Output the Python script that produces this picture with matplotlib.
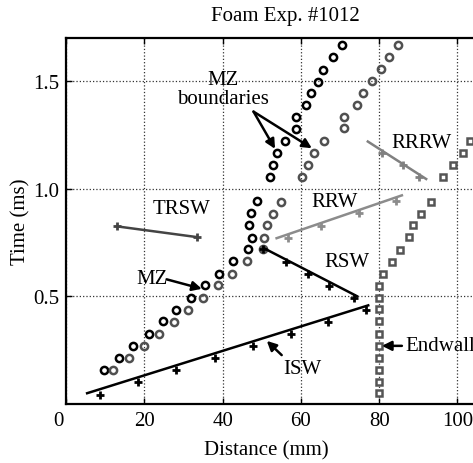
import numpy as np
import matplotlib
matplotlib.use('Agg')
import matplotlib.pyplot as plt
from matplotlib.transforms import ScaledTranslation

plt.rcParams['font.family'] = ['Liberation Serif', 'DejaVu Serif']
plt.rcParams['font.size'] = 15

# Mixing-zone boundaries (distance mm, time ms)
mz1_x = [9.8, 13.6, 17.2, 21.3, 24.7, 28.0, 31.9, 35.5, 39.2, 42.7, 46.4, 47.5, 46.8, 47.2, 48.7,
         52.2, 53.0, 53.8, 55.9, 58.7, 58.7, 61.3, 62.6, 64.3, 65.6, 68.1, 70.4]
mz1_t = [0.157, 0.214, 0.270, 0.324, 0.384, 0.437, 0.491, 0.551, 0.606, 0.663, 0.719, 0.772, 0.830, 0.888, 0.941,
         1.056, 1.111, 1.165, 1.222, 1.278, 1.332, 1.389, 1.443, 1.497, 1.551, 1.610, 1.667]
mz2_x = [11.9, 16.2, 20.0, 23.8, 27.7, 31.1, 35.1, 38.9, 42.5, 46.3, 50.2, 50.7, 51.3, 53.0, 54.8,
         60.2, 61.9, 63.4, 66.0, 71.1, 71.1, 74.3, 75.8, 78.1, 80.4, 82.4, 84.9]
mz2_t = [0.157, 0.213, 0.270, 0.325, 0.383, 0.437, 0.491, 0.552, 0.606, 0.662, 0.718, 0.772, 0.830, 0.884, 0.940,
         1.054, 1.110, 1.165, 1.222, 1.280, 1.332, 1.391, 1.443, 1.501, 1.556, 1.610, 1.668]

# Endwall / foam front
ew_x = [80.0, 80.0, 80.0, 80.0, 80.0, 80.0, 80.0, 80.0, 80.0, 80.0, 81.0, 83.3, 85.3, 87.5, 88.7, 90.6, 93.2,
        96.2, 98.8, 101.5, 103.3]
ew_t = [0.049, 0.103, 0.160, 0.215, 0.271, 0.326, 0.384, 0.440, 0.494, 0.549, 0.606, 0.661, 0.715, 0.775, 0.829,
        0.884, 0.940, 1.052, 1.108, 1.165, 1.222]

# Shock / wave points and fitted lines
isw_x = [8.7, 18.5, 28.0, 38.1, 47.8, 57.4, 67.0, 76.6]
isw_t = [0.043, 0.100, 0.159, 0.213, 0.269, 0.325, 0.382, 0.437]
isw_fit_x = [5.4, 77.2]
isw_fit_t = [0.050, 0.458]

rsw_x = [50.4, 56.2, 61.8, 67.3, 73.6]
rsw_t = [0.718, 0.661, 0.602, 0.546, 0.494]
rsw_fit_x = [50.4, 74.3]
rsw_fit_t = [0.725, 0.501]

rrw_x = [56.6, 65.2, 74.8, 84.3]
rrw_t = [0.771, 0.827, 0.886, 0.941]
rrw_fit_x = [53.8, 85.8]
rrw_fit_t = [0.770, 0.969]

rrrw_x = [80.8, 86.2, 90.2]
rrrw_t = [1.168, 1.111, 1.054]
rrrw_fit_x = [77.1, 92.0]
rrrw_fit_t = [1.219, 1.045]

trsw_x = [13.0, 33.5]
trsw_t = [0.825, 0.775]

fig = plt.figure(figsize=(4.73, 4.64), dpi=100)
ax = fig.add_axes([0.1395, 0.1272, 0.927, 0.7888])

ax.plot(mz1_x, mz1_t, 'o', ls='none', ms=5.2, mew=1.8, mfc='none', mec='k')
ax.plot(mz2_x, mz2_t, 'o', ls='none', ms=5.2, mew=1.8, mfc='none', mec='#505050')
ax.plot(ew_x, ew_t, 's', ls='none', ms=4.2, mew=1.8, mfc='white', mec='#555555')

ax.plot(isw_fit_x, isw_fit_t, '-', color='k', lw=1.8)
ax.plot(isw_x, isw_t, '+', ls='none', color='k', ms=5.5, mew=2)
ax.plot(rsw_fit_x, rsw_fit_t, '-', color='k', lw=1.8)
ax.plot(rsw_x, rsw_t, '+', ls='none', color='k', ms=5.5, mew=2)
ax.plot(rrw_fit_x, rrw_fit_t, '-', color='#8c8c8c', lw=1.8)
ax.plot(rrw_x, rrw_t, '+', ls='none', color='#8c8c8c', ms=5.5, mew=2)
ax.plot(rrrw_fit_x, rrrw_fit_t, '-', color='#808080', lw=1.8)
ax.plot(rrrw_x, rrrw_t, '+', ls='none', color='#808080', ms=5.5, mew=2)
ax.plot(trsw_x, trsw_t, '-+', color='#444444', lw=1.8, ms=5.5, mew=2)

arrow = dict(arrowstyle='-|>', color='k', lw=1.8, mutation_scale=14, shrinkA=0, shrinkB=0)
ax.text(29.6, 0.91, 'TRSW', ha='center', va='center')
ax.text(40.2, 1.465, 'MZ\nboundaries', ha='center', va='center', linespacing=1.0)
ax.annotate('', xy=(53.4, 1.185), xytext=(47.9, 1.358), arrowprops=arrow)
ax.annotate('', xy=(62.8, 1.188), xytext=(47.9, 1.358), arrowprops=arrow)
ax.text(21.9, 0.582, 'MZ', ha='center', va='center')
ax.annotate('', xy=(34.7, 0.535), xytext=(25.7, 0.579), arrowprops=arrow)
ax.text(68.7, 0.941, 'RRW', ha='center', va='center')
ax.text(90.9, 1.214, 'RRRW', ha='center', va='center')
ax.text(71.7, 0.664, 'RSW', ha='center', va='center')
ax.text(60.5, 0.165, 'ISW', ha='center', va='center')
ax.annotate('', xy=(51.3, 0.293), xytext=(55.1, 0.227), arrowprops=arrow)
ax.text(86.6, 0.27, 'Endwall', ha='left', va='center')
ax.annotate('', xy=(80.7, 0.27), xytext=(85.8, 0.27), arrowprops=arrow)

ax.set_xlim(0, 112)
ax.set_ylim(0, 1.7)
ax.set_xticks([0, 20, 40, 60, 80, 100])
ax.set_yticks([0.5, 1.0, 1.5])
ax.set_yticklabels(['0.5', '1.0', '1.5'])
ax.grid(True, ls=':', color='#333333', lw=0.9)
ax.tick_params(direction='in', top=True, right=True, length=4, width=1, labelsize=15, pad=5)
for s in ax.spines.values():
    s.set_linewidth(1.6)

ax.set_title('Foam Exp. #1012', fontsize=15, pad=13)
ax.set_xlabel('Distance (mm)', fontsize=15)
ax.xaxis.set_label_coords(0.457, -0.1)
ax.set_ylabel('Time (ms)', fontsize=15)
ax.yaxis.set_label_coords(-0.08, 0.5)

fig.canvas.draw()
t0 = ax.xaxis.get_major_ticks()[0]
t0.label1.set_transform(t0.label1.get_transform() + ScaledTranslation(-0.08, 0, fig.dpi_scale_trans))

fig.savefig('out.png', dpi=100)
